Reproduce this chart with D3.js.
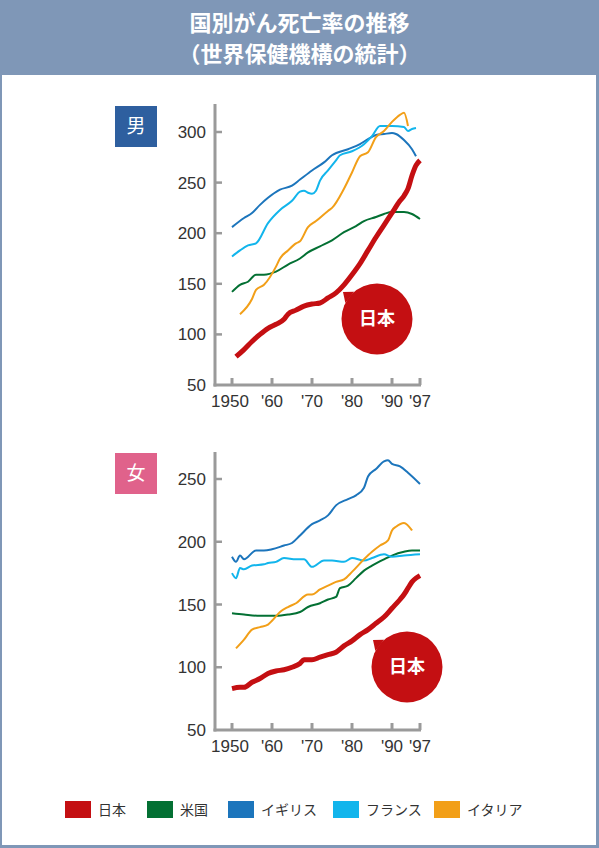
<!DOCTYPE html>
<html>
<head>
<meta charset="utf-8">
<style> body { margin: 0; } svg { display: block; } </style>
<script src="https://cdn.jsdelivr.net/npm/d3@7"></script>
</head>
<body>
<div id="chart"></div>
<script>
// 国名と色
const countries = ["日本", "米国", "イギリス", "フランス", "イタリア"];
const countryColors = ["#c40f12", "#037033", "#1c75bc", "#12b5ec", "#f29f18"];

const xTickYears = [1950, 1960, 1970, 1980, 1990, 1997];
const xTickLabels = ["1950", "'60", "'70", "'80", "'90", "'97"];
const menTicks = [50, 100, 150, 200, 250, 300];
const womenTicks = [50, 100, 150, 200, 250];

// 男 [年, 死亡率]
const menJapan = [[1951,78],[1953,85],[1955,93],[1957,100],[1959,106],[1961,110],[1963,115],[1964,120],[1966,124],[1968,128],[1970,130],[1972,131],[1974,136],[1976,141],[1978,149],[1980,159],[1982,170],[1984,183],[1986,196],[1988,208],[1990,220],[1992,232],[1993,237],[1994,244],[1995,257],[1996,267],[1997,272]];
const menUS = [[1950,142],[1952,149],[1954,152],[1956,159],[1958,159],[1961,162],[1964,169],[1967,175],[1969,181],[1972,187],[1975,193],[1978,201],[1981,207],[1983,212],[1986,216],[1988,219],[1990,221],[1993,221],[1995,219],[1997,214]];
const menUK = [[1950,206],[1953,215],[1955,220],[1957,228],[1959,235],[1962,243],[1965,247],[1967,253],[1970,262],[1973,270],[1975,277],[1979,283],[1982,288],[1984,293],[1986,297],[1988,298],[1990,299],[1991,298],[1993,292],[1995,283],[1996,276]];
const menFrance = [[1950,177],[1952,183],[1954,188],[1956,190],[1959,210],[1962,223],[1965,232],[1967,241],[1968,242],[1969,240],[1970,239],[1971,242],[1972,252],[1974,262],[1976,272],[1977,277],[1980,281],[1983,288],[1985,296],[1987,306],[1990,306],[1993,305],[1994,301],[1995,303],[1996,304]];
const menItaly = [[1952,120],[1955,135],[1956,144],[1958,149],[1961,167],[1962,175],[1964,183],[1966,190],[1967,192],[1969,206],[1971,212],[1974,222],[1975,225],[1978,244],[1980,260],[1982,276],[1984,280],[1986,295],[1988,301],[1990,310],[1992,317],[1993,319],[1994,306]];

// 女
const womenJapan = [[1950,83],[1952,84],[1953,84],[1955,88],[1957,91],[1959,95],[1961,97],[1963,98],[1965,100],[1967,103],[1968,106],[1970,106],[1972,108],[1974,110],[1976,112],[1978,117],[1980,121],[1982,126],[1984,130],[1986,135],[1988,140],[1990,147],[1992,154],[1993,158],[1994,163],[1995,168],[1996,171],[1997,173]];
const womenUS = [[1950,143],[1953,142],[1957,141],[1961,141],[1964,142],[1967,144],[1969,148],[1972,151],[1974,154],[1976,156],[1977,163],[1979,165],[1981,171],[1983,177],[1985,181],[1988,186],[1990,189],[1993,192],[1995,193],[1997,193]];
const womenUK = [[1950,188],[1951,184],[1952,189],[1953,186],[1956,193],[1958,193],[1960,194],[1963,197],[1965,199],[1967,205],[1970,214],[1972,217],[1974,221],[1976,229],[1979,234],[1981,237],[1983,243],[1984,252],[1986,258],[1988,264],[1989,265],[1990,262],[1992,260],[1994,255],[1997,246]];
const womenFrance = [[1950,175],[1951,171],[1952,179],[1953,178],[1955,181],[1958,182],[1959,183],[1961,184],[1963,187],[1966,186],[1968,186],[1970,180],[1973,185],[1975,185],[1978,184],[1980,187],[1983,185],[1985,187],[1988,190],[1990,188],[1993,189],[1997,190]];
const womenItaly = [[1951,115],[1953,122],[1955,130],[1957,132],[1959,134],[1960,137],[1962,144],[1964,148],[1966,151],[1969,158],[1970,158],[1972,162],[1974,165],[1976,168],[1978,170],[1980,176],[1983,186],[1985,192],[1987,197],[1989,201],[1990,209],[1991,212],[1993,215],[1995,209]];

const width = 599, height = 848;
const frameColor = "#7f97b7";
const axisColor = "#9a9a9a";
const jpFont = "'Noto Sans CJK JP', sans-serif";
const numFont = "'Liberation Sans', Arial, sans-serif";

const svg = d3.select("#chart").append("svg")
    .attr("width", width)
    .attr("height", height);

// 枠とヘッダー
svg.append("rect").attr("width", width).attr("height", height).attr("fill", frameColor);
svg.append("rect").attr("x", 2).attr("y", 75).attr("width", width - 5).attr("height", height - 78).attr("fill", "#fff");

svg.append("text")
    .attr("x", width / 2).attr("y", 31)
    .attr("text-anchor", "middle")
    .attr("font-family", jpFont).attr("font-weight", "bold").attr("font-size", 22)
    .attr("fill", "#fff")
    .text("国別がん死亡率の推移");
svg.append("text")
    .attr("x", width / 2).attr("y", 62)
    .attr("text-anchor", "middle")
    .attr("font-family", jpFont).attr("font-weight", "bold").attr("font-size", 22)
    .attr("fill", "#fff")
    .text("（世界保健機構の統計）");

function drawPanel(opt) {
    const x = d3.scaleLinear().domain([1950, 1997]).range([232, 420]);
    const y = d3.scaleLinear().domain(opt.domain).range(opt.range);
    const g = svg.append("g");

    // ラベルの箱
    g.append("rect")
        .attr("x", 115).attr("y", opt.boxY).attr("width", 42).attr("height", 41)
        .attr("fill", opt.boxColor);
    g.append("text")
        .attr("x", 136).attr("y", opt.boxY + 27)
        .attr("text-anchor", "middle")
        .attr("font-family", jpFont).attr("font-size", 19).attr("fill", "#fff")
        .text(opt.label);

    // 軸
    const axisX = 215;
    const bottom = y(opt.domain[0]);
    g.append("line")
        .attr("x1", axisX).attr("x2", axisX)
        .attr("y1", opt.axisTop).attr("y2", bottom + 1.5)
        .attr("stroke", axisColor).attr("stroke-width", 3);
    g.append("line")
        .attr("x1", axisX - 1.5).attr("x2", x(1997) + 1)
        .attr("y1", bottom).attr("y2", bottom)
        .attr("stroke", axisColor).attr("stroke-width", 3);

    g.selectAll(".xt").data(xTickYears).enter().append("line")
        .attr("x1", d => x(d)).attr("x2", d => x(d))
        .attr("y1", bottom).attr("y2", bottom - 7)
        .attr("stroke", axisColor).attr("stroke-width", 3);
    g.selectAll(".xl").data(xTickYears).enter().append("text")
        .attr("x", (d, i) => x(d) - (i == 0 ? 2 : 0))
        .attr("y", bottom + 22)
        .attr("text-anchor", "middle")
        .attr("font-family", numFont).attr("font-size", 17).attr("fill", "#333")
        .text((d, i) => xTickLabels[i]);

    g.selectAll(".yt").data(opt.ticks.slice(1)).enter().append("line")
        .attr("x1", axisX).attr("x2", axisX + 7)
        .attr("y1", d => y(d)).attr("y2", d => y(d))
        .attr("stroke", axisColor).attr("stroke-width", 2.5);
    g.selectAll(".yl").data(opt.ticks).enter().append("text")
        .attr("x", 206).attr("y", d => y(d) + 6)
        .attr("text-anchor", "end")
        .attr("font-family", numFont).attr("font-size", 17).attr("fill", "#333")
        .text(d => d);

    // 折れ線 (日本を最後に)
    const line = d3.line()
        .x(d => x(d[0])).y(d => y(d[1]))
        .curve(d3.curveMonotoneX);
    const order = [1, 2, 3, 4, 0];
    order.forEach(i => {
        g.append("path")
            .attr("d", line(opt.series[i]))
            .attr("fill", "none")
            .attr("stroke", countryColors[i])
            .attr("stroke-width", i == 0 ? 5 : 2)
            .attr("stroke-linejoin", "round");
    });

    // 日本の吹き出し
    const cx = opt.bubble[0], cy = opt.bubble[1], r = 35.5;
    const tip = [cx - 34, cy - 27];
    const ang = Math.atan2(tip[1] - cy, tip[0] - cx);
    const a1 = ang - 0.2, a2 = ang + 0.2;
    g.append("path")
        .attr("d", "M" + (cx + r * Math.cos(a1)) + "," + (cy + r * Math.sin(a1)) +
            "L" + tip[0] + "," + tip[1] +
            "L" + (cx + r * Math.cos(a2)) + "," + (cy + r * Math.sin(a2)) + "Z")
        .attr("fill", countryColors[0]);
    g.append("circle")
        .attr("cx", cx).attr("cy", cy).attr("r", r)
        .attr("fill", countryColors[0]);
    g.append("text")
        .attr("x", cx).attr("y", cy + 6)
        .attr("text-anchor", "middle")
        .attr("font-family", jpFont).attr("font-weight", "bold").attr("font-size", 18)
        .attr("fill", "#fff")
        .text(countries[0]);
}

drawPanel({
    label: "男", boxY: 106, boxColor: "#2e5f9f",
    domain: [50, 300], range: [385, 132], ticks: menTicks, axisTop: 104,
    series: [menJapan, menUS, menUK, menFrance, menItaly],
    bubble: [377, 319]
});

drawPanel({
    label: "女", boxY: 453, boxColor: "#e0628b",
    domain: [50, 250], range: [730, 479], ticks: womenTicks, axisTop: 452,
    series: [womenJapan, womenUS, womenUK, womenFrance, womenItaly],
    bubble: [407, 667]
});

// 凡例
const legendX = [65, 147, 228, 333, 434];
const legend = svg.append("g");
legend.selectAll("rect").data(countries).enter().append("rect")
    .attr("x", (d, i) => legendX[i]).attr("y", 801)
    .attr("width", 26).attr("height", 17)
    .attr("fill", (d, i) => countryColors[i]);
legend.selectAll("text").data(countries).enter().append("text")
    .attr("x", (d, i) => legendX[i] + 33).attr("y", 815)
    .attr("font-family", jpFont).attr("font-size", 14).attr("fill", "#333")
    .text(d => d);
</script>
</body>
</html>
